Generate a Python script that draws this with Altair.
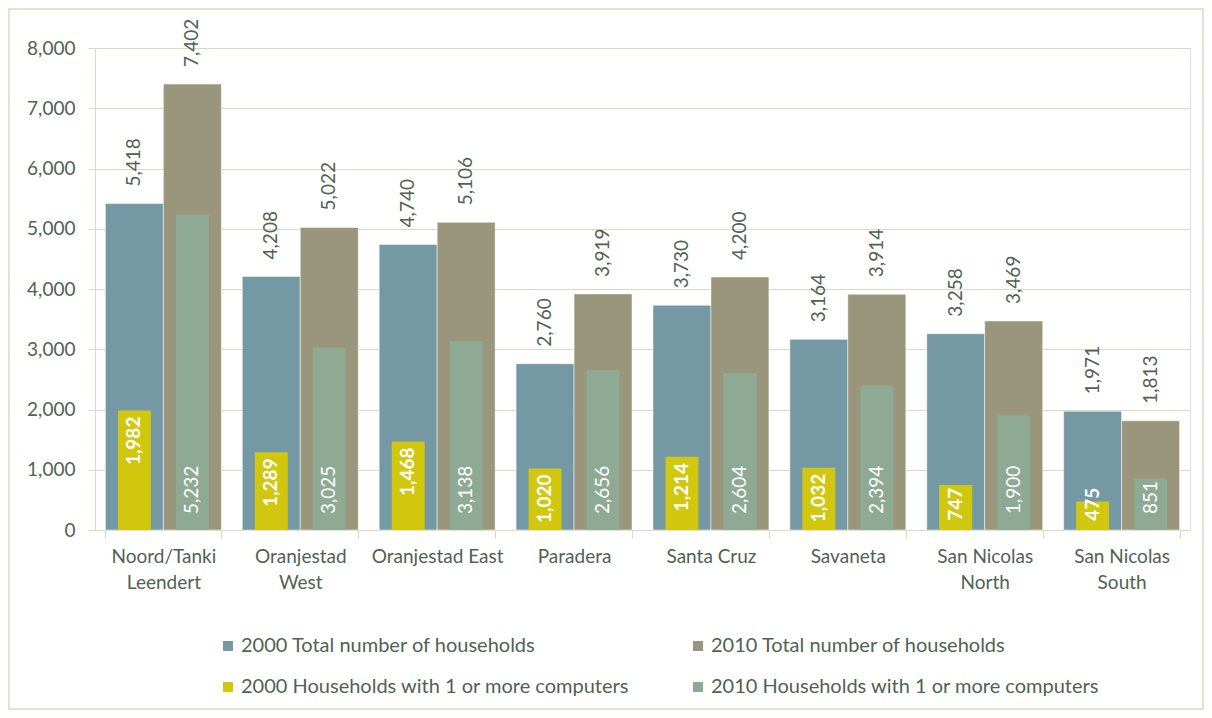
import altair as alt
import pandas as pd

categories = ["Noord/Tanki\nLeendert", "Oranjestad\nWest", "Oranjestad East", "Paradera",
              "Santa Cruz", "Savaneta", "San Nicolas\nNorth", "San Nicolas\nSouth"]
total_2000 = [5418, 4208, 4740, 2760, 3730, 3164, 3258, 1971]
total_2010 = [7402, 5022, 5106, 3919, 4200, 3914, 3469, 1813]
comp_2000 = [1982, 1289, 1468, 1020, 1214, 1032, 747, 475]
comp_2010 = [5232, 3025, 3138, 2656, 2604, 2394, 1900, 851]

series_names = ["2000 Total number of households", "2010 Total number of households",
                "2000 Households with 1 or more computers", "2010 Households with 1 or more computers"]
series_colors = ["#7498A4", "#99967B", "#D1C70F", "#8FAA94"]
years = ["2000", "2010"]

rows = []
for i, c in enumerate(categories):
    rows.append(dict(cat=c, year="2000", kind="total", series=series_names[0], value=total_2000[i]))
    rows.append(dict(cat=c, year="2010", kind="total", series=series_names[1], value=total_2010[i]))
    rows.append(dict(cat=c, year="2000", kind="comp", series=series_names[2], value=comp_2000[i]))
    rows.append(dict(cat=c, year="2010", kind="comp", series=series_names[3], value=comp_2010[i]))
df = pd.DataFrame(rows)

FONT = "Lato"
TXT = "#4F6350"
GRID = "#DADABF"

x = alt.X("cat:N", sort=categories, title=None,
          scale=alt.Scale(paddingInner=0.153, paddingOuter=0.076),
          axis=alt.Axis(labelAngle=0,
                        labelExpr="isValid(datum.value) ? split(datum.value, '\\n') : ''",
                        labelFontSize=19, labelColor=TXT, labelFont=FONT, labelLineHeight=26,
                        labelPadding=9, tickBand="extent", tickSize=8, tickColor=GRID,
                        domainColor=GRID, labelLimit=300))
xo_full = alt.XOffset("year:N", scale=alt.Scale(domain=years, paddingInner=0, paddingOuter=0))
xo_text = alt.XOffset("year:N", scale=alt.Scale(type="point", domain=years, padding=0.5))
xo_narrow = alt.XOffset("year:N", scale=alt.Scale(domain=years, paddingInner=0.431, paddingOuter=0.2155))
yax = alt.Axis(values=list(range(0, 8001, 1000)), labelExpr="format(datum.value, ',')",
               labelFontSize=19, labelColor=TXT,
               labelFont=FONT, tickColor=GRID, tickSize=7, labelPadding=13, domainColor=GRID,
               gridColor=GRID, title=None)
yscale = alt.Scale(domain=[0, 8000], nice=False)
y = alt.Y("value:Q", scale=yscale, axis=yax)
color = alt.Color("series:N", scale=alt.Scale(domain=series_names, range=series_colors),
                  legend=alt.Legend(title=None, orient="none", legendX=123, legendY=588,
                                    direction="horizontal", columns=2, columnPadding=58,
                                    rowPadding=21, symbolType="square", symbolSize=100,
                                    symbolStrokeWidth=0, labelFontSize=20, labelFont=FONT,
                                    labelColor=TXT, labelLimit=500, symbolOffset=0,
                                    labelOffset=3))

base = alt.Chart(df)

totals = base.transform_filter("datum.kind == 'total'").mark_bar(stroke="white", strokeWidth=0.5).encode(
    x=x, xOffset=xo_full, y=y, color=color)
comps = base.transform_filter("datum.kind == 'comp'").mark_bar().encode(
    x=x, xOffset=xo_narrow, y=y, color=color)

total_lbl = base.transform_filter("datum.kind == 'total'").transform_calculate(
    lbl="datum.value").mark_text(
    angle=270, align="left", baseline="middle", dx=17, fontSize=19, font=FONT, color=TXT).encode(
    x=x, xOffset=xo_text, y=y, text=alt.Text("lbl:Q", format=","))

c2000_lbl = base.transform_filter("datum.series == '%s'" % series_names[2]).transform_calculate(
    lbl="datum.value").transform_calculate(value="max(datum.lbl, 800)").mark_text(
    angle=270, align="right", baseline="middle", dx=-6, fontSize=19, font=FONT, color="white",
    fontWeight="bold").encode(
    x=x, xOffset=xo_text, y=y, text=alt.Text("lbl:Q", format=","))

c2010_lbl = base.transform_filter("datum.series == '%s'" % series_names[3]).transform_calculate(
    lbl="datum.value").transform_calculate(value="0").mark_text(
    angle=270, align="left", baseline="middle", dx=16, fontSize=19, font=FONT, color="white").encode(
    x=x, xOffset=xo_text, y=y, text=alt.Text("lbl:Q", format=","))

border = alt.Chart(pd.DataFrame({"a": [0]})).mark_rect(fill="transparent", stroke=GRID, strokeWidth=1.5).encode(
    x=alt.value(-86), x2=alt.value(1108), y=alt.value(-39), y2=alt.value(661))

chart = alt.layer(totals, comps, total_lbl, c2000_lbl, c2010_lbl, border).resolve_scale(
    xOffset="independent"
).properties(
    width=1095, height=482, autosize=alt.AutoSizeParams(type="none"),
    padding={"left": 87, "top": 40, "right": 14, "bottom": 180}
).configure_view(strokeWidth=0).configure(font=FONT)

chart.save("out.html", embed_options={"renderer": "svg", "actions": False})
